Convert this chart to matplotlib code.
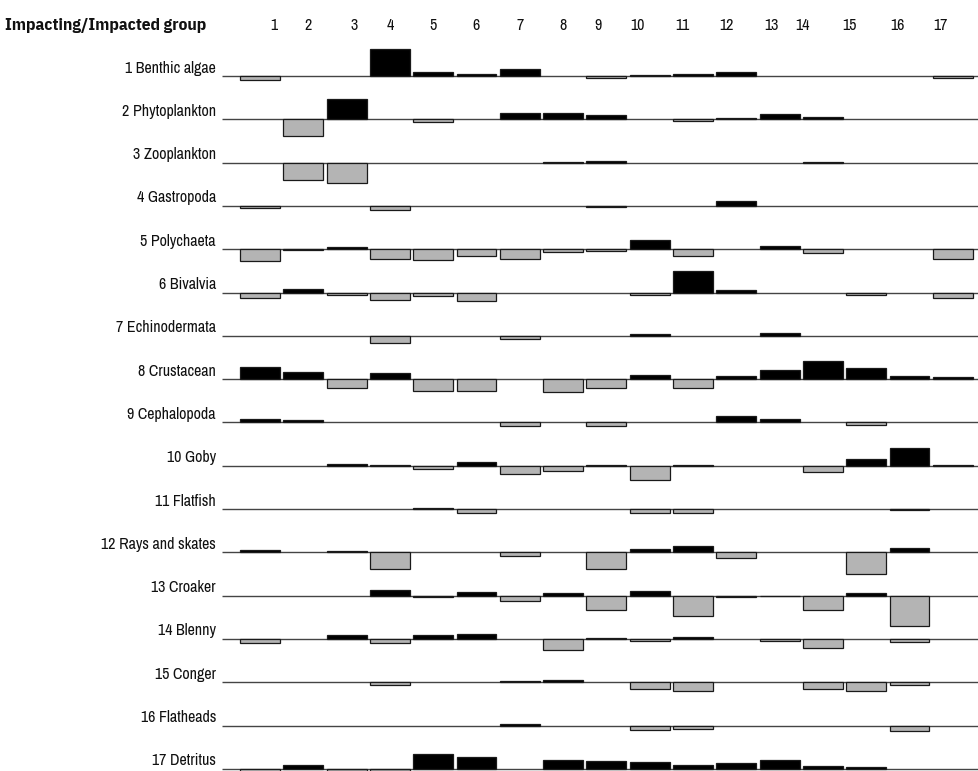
import matplotlib
matplotlib.use("Agg")
import matplotlib.pyplot as plt
import numpy as np

# ---------------- data ----------------
groups = ["1 Benthic algae", "2 Phytoplankton", "3 Zooplankton", "4 Gastropoda",
          "5 Polychaeta", "6 Bivalvia", "7 Echinodermata", "8 Crustacean",
          "9 Cephalopoda", "10 Goby", "11 Flatfish", "12 Rays and skates",
          "13 Croaker", "14 Blenny", "15 Conger", "16 Flatheads", "17 Detritus"]
impacted_labels = [str(i) for i in range(1, 18)]
header_title = "Impacting/Impacted group"

benthic_algae = [-0.13, 0, 0, 0.89, 0.14, 0.07, 0.22, 0, -0.08, 0.03, 0.08, 0.14, 0, 0, 0, 0, -0.07]
phytoplankton = [0, -0.56, 0.68, 0, -0.08, 0, 0.20, 0.20, 0.14, 0, -0.04, 0.03, 0.17, 0.08, 0, 0, 0]
zooplankton = [0, -0.58, -0.67, 0, 0, 0, 0, 0.03, 0.07, 0, 0, 0, 0, 0.03, 0, 0, 0]
gastropoda = [-0.06, 0, 0, -0.14, 0, 0, 0, 0, -0.05, 0, 0, 0.16, 0, 0, 0, 0, 0]
polychaeta = [-0.40, -0.03, 0.06, -0.31, -0.36, -0.22, -0.33, -0.08, -0.07, 0.32, -0.22, 0, 0.12, -0.11, 0, 0, -0.33]
bivalvia = [-0.18, 0.13, -0.08, -0.26, -0.11, -0.28, 0, 0, 0, -0.09, 0.72, 0.07, 0, 0, -0.07, 0, -0.19]
echinodermata = [0, 0, 0, -0.24, 0, 0, -0.12, 0, 0, 0.06, 0, 0, 0.08, 0, 0, 0, 0]
crustacean = [0.39, 0.23, -0.29, 0.21, -0.41, -0.41, 0, -0.44, -0.28, 0.13, -0.31, 0.09, 0.29, 0.61, 0.37, 0.09, 0.08]
cephalopoda = [0.12, 0.08, 0, 0, 0, 0, -0.12, 0, -0.12, 0, 0, 0.23, 0.13, 0, -0.09, 0, 0]
goby = [0, 0, 0.07, 0.02, -0.11, 0.14, -0.29, -0.19, 0.02, -0.47, 0.03, 0, 0, -0.21, 0.22, 0.59, 0.04]
flatfish = [0, 0, 0, 0, 0.04, -0.12, 0, 0, 0, -0.12, -0.12, 0, 0, 0, 0, -0.04, 0]
rays_skates = [0.06, 0, 0.04, -0.56, 0, 0, -0.11, 0, -0.56, 0.10, 0.22, -0.18, 0, 0, -0.72, 0.14, 0]
croaker = [0, 0, 0, 0.17, -0.06, 0.12, -0.17, 0.07, -0.47, 0.16, -0.68, -0.06, -0.03, -0.47, 0.09, -1.02, 0]
blenny = [-0.12, 0, 0.13, -0.14, 0.14, 0.18, 0, -0.38, 0.03, -0.06, 0.07, 0, -0.06, -0.31, 0, -0.11, 0]
conger = [0, 0, 0, -0.10, 0, 0, 0.03, 0.06, 0, -0.22, -0.28, 0, 0, -0.23, -0.30, -0.09, 0]
flatheads = [0, 0, 0, 0, 0, 0, 0.06, 0, 0, -0.14, -0.10, 0, 0, 0, 0, -0.17, 0]
detritus = [-0.10, 0.13, -0.07, -0.07, 0.48, 0.40, 0, 0.31, 0.26, 0.22, 0.13, 0.20, 0.28, 0.10, 0.06, 0, 0]

rows = [benthic_algae, phytoplankton, zooplankton, gastropoda, polychaeta, bivalvia,
        echinodermata, crustacean, cephalopoda, goby, flatfish, rays_skates, croaker,
        blenny, conger, flatheads, detritus]

# ---------------- layout (pixels of the 979x771 canvas) ----------------
W_PX, H_PX = 979, 771
COL1_PX, COL_STEP_PX = 260.0, 43.3      # centre of first column, spacing
ROW1_PX, ROW_STEP_PX = 76.0, 43.3       # baseline of first row, spacing
UNIT_PX = 30.0                          # pixels per unit of impact
LINE_START_PX = 222.0
LABEL_RIGHT_PX = 216.0
HEADER_Y_PX = 25.0
header_shift_px = [14, 5, 8, 0, 0, 0, 0, 0, -8, -12, -11, -10, -8, -20, -17, -12, -12]

LABEL_FONT = ['Archivo Narrow', 'Liberation Sans', 'DejaVu Sans']
TITLE_FONT = ['IBM Plex Sans Condensed', 'Liberation Sans', 'DejaVu Sans']

def xpx(p):
    return 1 + (p - COL1_PX) / COL_STEP_PX

def ypx(p):
    return (ROW1_PX - p) / UNIT_PX

row_step = ROW_STEP_PX / UNIT_PX

plt.rcParams['font.family'] = LABEL_FONT

fig = plt.figure(figsize=(W_PX / 100, H_PX / 100), dpi=100)
ax = fig.add_axes([0, 0, 1, 1])
ax.set_xlim(xpx(0), xpx(W_PX))
ax.set_ylim(ypx(H_PX), ypx(0))
ax.axis('off')

cols = np.arange(1, 18)
for r, (name, vals) in enumerate(zip(groups, rows)):
    base = -r * row_step
    ax.hlines(base, xpx(LINE_START_PX), xpx(W_PX), color='#444444', lw=1.0, zorder=1)
    vals = np.asarray(vals, dtype=float)
    mask = vals != 0
    colors = ['#000000' if v > 0 else '#b4b4b4' for v in vals[mask]]
    ax.bar(cols[mask], vals[mask], width=0.92, bottom=base, color=colors,
           edgecolor='#1a1a1a', linewidth=0.9, zorder=2)
    ax.text(xpx(LABEL_RIGHT_PX), base + 8 / UNIT_PX, name, ha='right', va='center',
            fontsize=11.5, color='#111111', family=LABEL_FONT)

for i, lab in enumerate(impacted_labels):
    ax.text(cols[i] + header_shift_px[i] / COL_STEP_PX, ypx(HEADER_Y_PX), lab,
            ha='center', va='center', fontsize=11.5, color='#111111', family=LABEL_FONT)

ax.text(xpx(5), ypx(HEADER_Y_PX), header_title, ha='left', va='center',
        fontsize=12.5, fontweight='bold', color='#111111', family=TITLE_FONT)

fig.savefig('out.png', dpi=100)
